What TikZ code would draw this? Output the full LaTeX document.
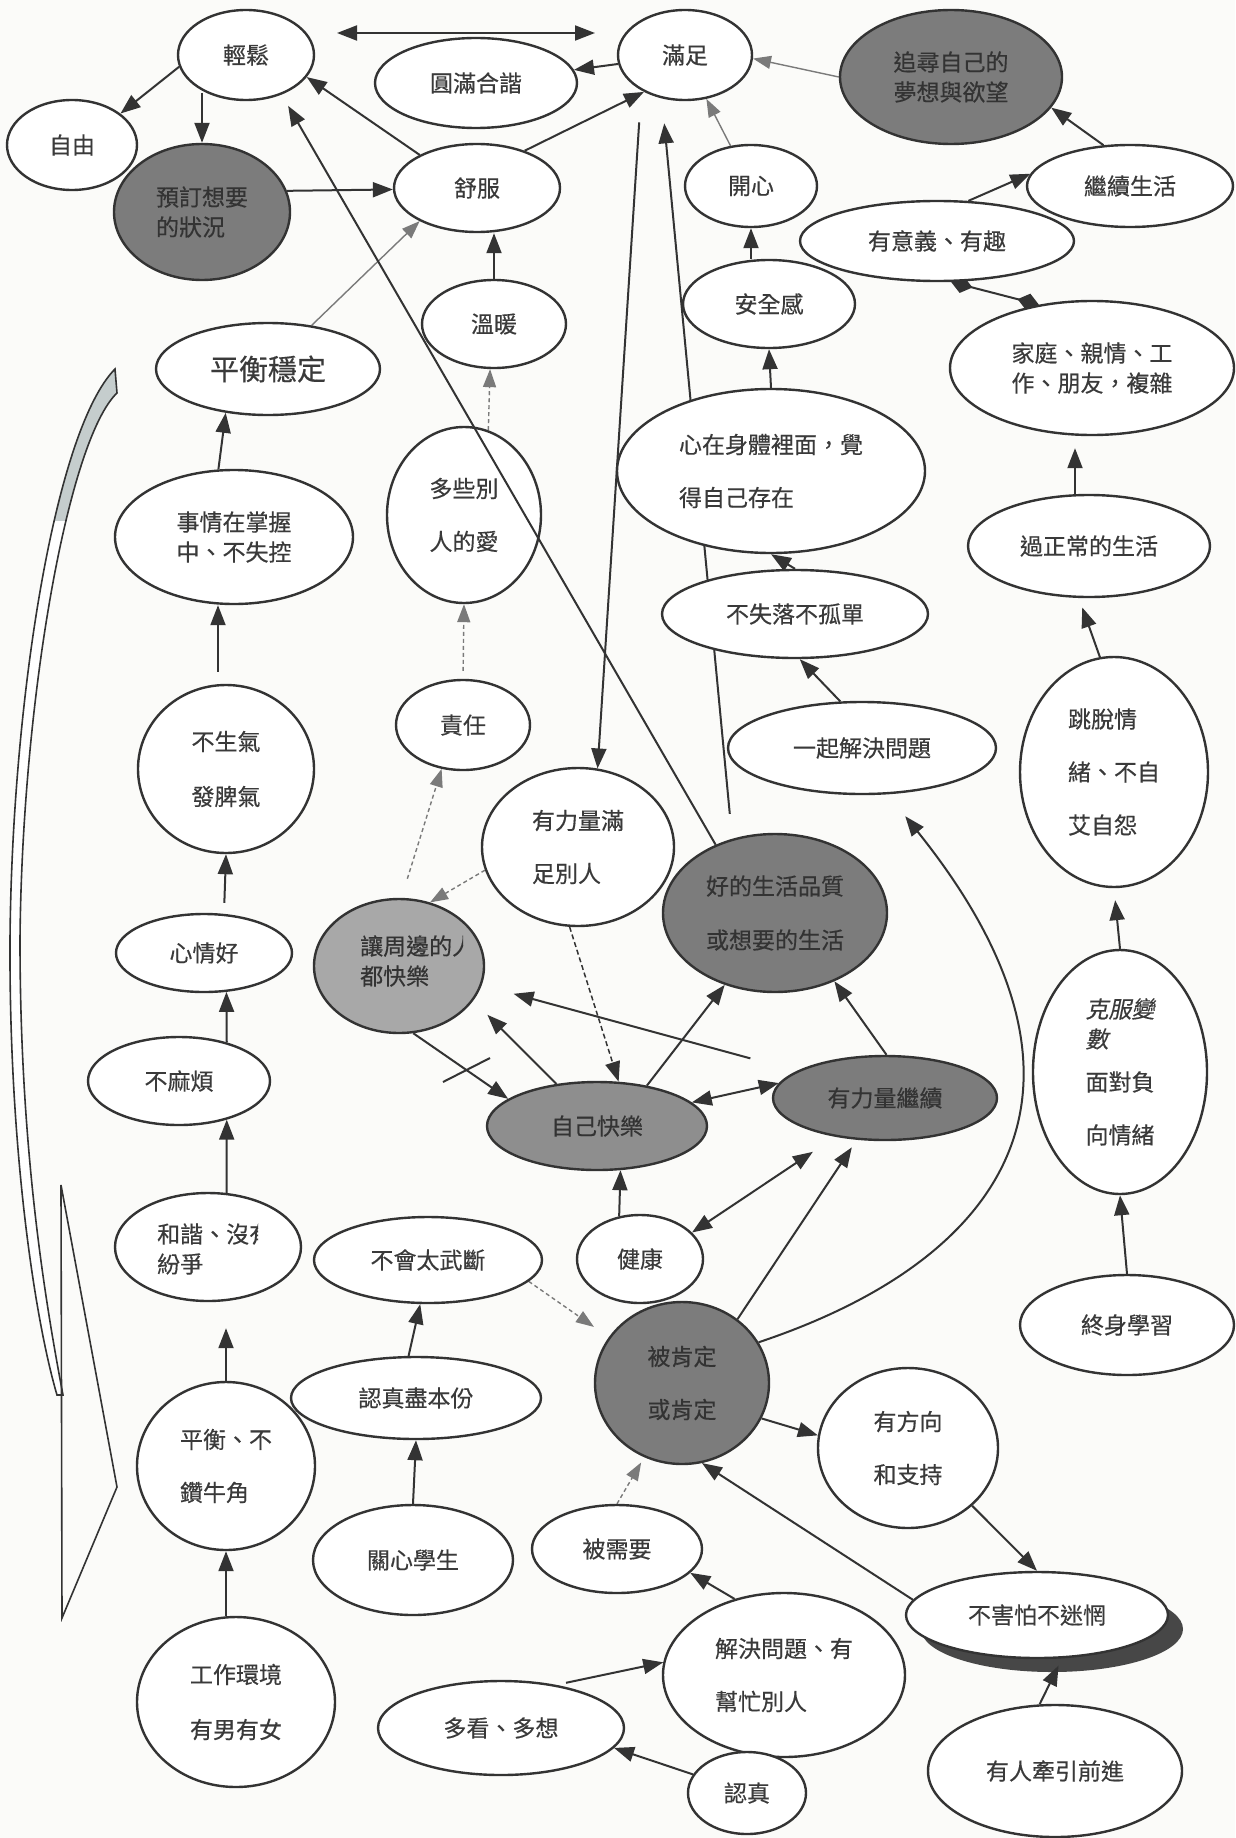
\documentclass[tikz,border=0pt]{standalone}
\usepackage{fontspec}
\newfontfamily\cjk[FakeBold=0.4]{Noto Sans CJK TC}
\newfontfamily\cjkit[FakeSlant=0.2,FakeBold=0.4]{Noto Sans CJK TC}
\usetikzlibrary{shapes.geometric,arrows.meta}
\pgfdeclarelayer{back}\pgfdeclarelayer{bg}\pgfdeclarelayer{fore}
\pgfsetlayers{back,bg,main,fore}
\definecolor{ink}{HTML}{333333}
\definecolor{txtc}{HTML}{3A3A3A}
\definecolor{darkfill}{HTML}{7C7C7C}
\definecolor{midfill}{HTML}{8E8E8E}
\definecolor{lightfill}{HTML}{A8A8A8}
\definecolor{grayln}{HTML}{7A7A7A}
\definecolor{bgc}{HTML}{FBFBF9}
\definecolor{bracec}{HTML}{C5CDCD}
\newcommand\bracepath{(115,369) .. controls (55,430) and (12,700) .. (10,940)
  .. controls (9,1150) and (35,1320) .. (57,1395)
  -- (63,1395) .. controls (45,1300) and (20,1150) .. (20,940)
  .. controls (22,700) and (68,440) .. (117,393) -- cycle}
\begin{document}
\begin{tikzpicture}[x=1pt,y=-1pt,
  >={Triangle[length=20pt,width=15pt]},
  sz/.style 2 args={minimum width=#1, minimum height=#2},
  el/.style={ellipse, draw=ink, line width=2.4pt, fill=white, inner sep=0pt,
    text=txtc, font=\cjk\fontsize{23}{30}\selectfont, align=left},
  darkel/.style={el, fill=darkfill, text=black!80},
  txt/.style={inner sep=0pt, text=txtc, font=\cjk\fontsize{23}{30}\selectfont, align=left},
  arr/.style={draw=ink, line width=2pt, ->},
  darr/.style={draw=ink, line width=2pt, <->},
  ddash/.style={arr, line width=1.5pt, dash pattern=on 5pt off 3pt},
  garr/.style={draw=grayln, line width=1.4pt, -{Triangle[length=18pt,width=13pt]}},
  gdash/.style={garr, dash pattern=on 4pt off 3pt},
  dia/.style={draw=ink, line width=2pt, {Diamond[length=22pt,width=17pt]}-{Diamond[length=22pt,width=17pt]}}
]
\useasboundingbox (0,0) rectangle (1235,1838);

% ---------- nodes ----------
\node[el, sz={136}{90}] (qingsong) at (246,55) {輕鬆};
\node[el, sz={130}{90}] (ziyou) at (72,145) {自由};
\node[darkel, sz={176}{136}] (yuding) at (202,212) {預訂想要\\的狀況};
\node[el, sz={224}{92}, font=\cjk\fontsize{29}{34}\selectfont] (pingheng) at (268,369) {平衡穩定};
\node[el, sz={202}{90}] (yuanman) at (476,83) {圓滿合諧};
\node[el, sz={166}{88}] (shufu) at (477,188) {舒服};
\node[el, sz={144}{88}] (wennuan) at (494,324) {溫暖};
\node[el, sz={134}{90}] (manzu) at (685,55) {滿足};
\node[el, sz={132}{82}] (kaixin) at (751,186) {開心};
\node[el, sz={172}{88}] (anquan) at (769,304) {安全感};
\node[el, sz={308}{164}] (xinzai) at (771,471) {心在身體裡面，覺\\[23pt]得自己存在};
\node[darkel, sz={222}{134}] (zhuixun) at (951,77) {追尋自己的\\夢想與欲望};
\node[el, sz={206}{82}] (jixu) at (1130,186) {繼續生活};
\node[el, sz={274}{80}] (youyiyi) at (937,241) {有意義、有趣};
\node[el, sz={284}{134}] (jiating) at (1092,368) {家庭、親情、工\\作、朋友，複雜};
\node[el, sz={242}{102}] (zhengchang) at (1089,546) {過正常的生活};
\node[el, sz={188}{230}] (tiaotuo) at (1114,772) {跳脫情\\[23pt]緒、不自\\[23pt]艾自怨};
\node[el, sz={238}{134}] (shiqing) at (234,537) {事情在掌握\\中、不失控};
\node[el, sz={176}{168}] (bushengqi) at (226,769) {不生氣\\[25pt]發脾氣};
\node[el, sz={176}{78}] (xinqinghao) at (204,953) {心情好};
\node[el, sz={182}{88}] (bumafan) at (179,1081) {不麻煩};
\node[el, sz={186}{108}] (hexie) at (208,1247) {};
\node[el, sz={178}{168}] (pingheng2) at (226,1466) {平衡、不\\[23pt]鑽牛角};
\node[el, sz={198}{170}] (gongzuo) at (236,1702) {工作環境\\[25pt]有男有女};
\node[el, sz={154}{176}] (duoxie) at (464,515) {多些別\\[23pt]人的愛};
\node[el, sz={134}{90}] (zeren) at (463,725) {責任};
\node[el, sz={192}{158}] (youliliang) at (578,847) {有力量滿\\[23pt]足別人};
\node[darkel, sz={224}{158}] (haode) at (775,913) {好的生活品質\\[24pt]或想要的生活};
\node[el, sz={266}{88}] (bushiluo) at (795,614) {不失落不孤單};
\node[el, sz={268}{92}] (yiqi) at (862,748) {一起解決問題};
\node[el, fill=lightfill, sz={170}{134}] (rangzhou) at (399,966) {};
\node[el, fill=midfill, text=black!80, sz={220}{88}] (ziji) at (597,1126) {自己快樂};
\node[darkel, sz={224}{84}] (youlijixu) at (885,1098) {有力量繼續};
\node[el, sz={174}{244}] (kefu) at (1120,1072) {\cjkit 克服變\\\cjkit 數\\[13pt]\cjk 面對負\\[23pt]\cjk 向情緒};
\node[el, sz={214}{100}] (zhongshen) at (1127,1325) {終身學習};
\node[el, sz={228}{86}] (buhuitai) at (428,1260) {不會太武斷};
\node[el, sz={126}{88}] (jiankang) at (640,1259) {健康};
\node[darkel, sz={174}{162}] (beikending) at (682,1383) {被肯定\\[23pt]或肯定};
\node[el, sz={250}{82}] (renzhen2) at (416,1398) {認真盡本份};
\node[el, sz={200}{110}] (guanxin) at (413,1560) {關心學生};
\node[el, sz={170}{88}] (beixuyao) at (617,1549) {被需要};
\node[el, sz={180}{160}] (youfangxiang) at (908,1448) {有方向\\[23pt]和支持};
\node[el, sz={262}{86}] (buhaipa) at (1037,1615) {不害怕不迷惘};
\node[el, sz={242}{164}] (jiejue) at (784,1675) {解決問題、有\\[23pt]幫忙別人};
\node[el, sz={246}{94}] (duokan) at (501,1728) {多看、多想};
\node[el, sz={118}{82}] (renzhen) at (747,1793) {認真};
\node[el, sz={254}{132}] (youren) at (1055,1771) {有人牽引前進};

% clipped texts
\begin{scope}
\clip (150,1212) rectangle (258,1288);
\node[txt, anchor=west] (hexieT) at (157,1249) {和諧、沒有\\紛爭};
\end{scope}
\begin{scope}
\clip (352,922) rectangle (463,1002);
\node[txt, anchor=west, text=black!80] (rangzhouT) at (360,961) {讓周邊的人\\都快樂};
\end{scope}

\coordinate (dblL) at (337,33);
\coordinate (dblR) at (595,33);

% ---------- background, shadow, brace ----------
\begin{pgfonlayer}{back}
\fill[bgc] (0,0) rectangle (1235,1838);
\fill[black!72] ([shift={(15pt,-14pt)}]buhaipa.center) ellipse [x radius=131, y radius=43];
\fill[white] \bracepath;
\begin{scope}
\clip (0,360) rectangle (130,520);
\fill[bracec] \bracepath;
\end{scope}
\draw[ink, line width=1.6pt] \bracepath;
\draw[ink, line width=1.6pt, line join=miter] (61,1185) -- (117,1487) -- (62,1618) -- cycle;
\end{pgfonlayer}

% ---------- connectors ----------
\begin{pgfonlayer}{bg}
\draw[darr] (dblL) -- (dblR);
\draw[arr] (manzu) -- (yuanman);
\draw[arr] (shufu.38) -- (manzu.222);
\draw[arr] (shufu.150) -- (qingsong.340);
\draw[arr] (yuding.14) -- (shufu.181);
\draw[arr] (qingsong.190) -- (ziyou.33);
\draw[arr] (qingsong.224 -| yuding.north) -- (yuding.north);
\draw[garr] (pingheng.45) -- (shufu.210);
\draw[arr] (shiqing.103) -- (pingheng.226);
\draw[arr, shorten <=12pt] ([xshift=-8pt]bushengqi.north) -- ([xshift=-16pt]shiqing.south);
\draw[arr, shorten <=10pt] ([xshift=20pt]xinqinghao.north) -- (bushengqi.south);
\draw[arr] (bumafan.39) -- (xinqinghao.300);
\draw[arr] (hexie.71) -- (bumafan.321);
\draw[arr, shorten >=26pt] (pingheng2.north) -- (pingheng2.north |- hexie.south);
\draw[arr] ([xshift=-10pt]gongzuo.north) -- (pingheng2.south);
\draw[arr] (wennuan.north) -- (wennuan.north |- shufu.south);
\draw[arr] (anquan.north -| kaixin.south) -- (kaixin.south);
\draw[arr] (xinzai.north) -- (anquan.south);
\draw[arr, shorten <=25pt, shorten >=25pt] (haode.120) -- (manzu.242);
\draw[arr, shorten <=32pt] (manzu.219) -- (youliliang.76);
\draw[arr] (bushiluo.north) -- (xinzai.south);
\draw[arr] (yiqi.115) -- (bushiluo.276);
\draw[arr, shorten >=28pt] (beikending.28) .. controls (1005,1260) and (1125,1090) .. (yiqi.299);
\draw[arr] (youlijixu.88) -- (haode.311);
\draw[arr, shorten >=20pt] (ziji.134) -- (rangzhou.335);
\draw[arr] (rangzhou.282) -- (ziji.163);
\draw[ink, line width=2pt] (443,1082) -- (490,1058);
\draw[arr, shorten <=48pt, shorten >=33pt] (youlijixu.163) -- (rangzhou.347);
\draw[arr] (ziji.39) -- (haode.235);
\draw[darr] (ziji.14) -- (youlijixu.172);
\draw[arr] (jiankang.116) -- (ziji.298);
\draw[darr, shorten >=27pt] (jiankang.27) -- (youlijixu.218);
\draw[arr, shorten >=9pt] (beikending.49) -- (youlijixu.236);
\draw[arr] (beikending.336) -- (youfangxiang.172);
\draw[arr] (buhaipa.173) -- (beikending.284);
\draw[arr] (youfangxiang.318) -- (buhaipa.north);
\draw[arr, shorten >=8pt] (youren.103) -- (buhaipa.300);
\draw[gdash, shorten >=6pt] (beixuyao.north) -- (beikending.243);
\draw[arr] (jiejue.123) -- (beixuyao.342);
\draw[arr, shorten <=10pt] (duokan.38) -- (jiejue.174);
\draw[arr] (renzhen.161) -- (duokan.350);
\draw[arr] (guanxin.north) -- (renzhen2.south);
\draw[arr] (renzhen2.100) -- (buhuitai.260);
\draw[gdash, shorten >=18pt] (buhuitai.348) -- (beikending.148);
\draw[gdash, shorten <=20pt] (rangzhou.88) -- (zeren.244);
\draw[gdash, shorten <=8pt] (zeren.north) -- (duoxie.south);
\draw[gdash] (duoxie.74) -- (wennuan.265);
\draw[gdash] (youliliang.194) -- (rangzhou.64);
\draw[ddash] (youliliang.264) -- (ziji.64);
\draw[garr] (kaixin.117) -- (manzu.296);
\draw[garr] (zhuixun.west) -- (manzu.357);
\draw[arr] (jixu.123) -- (zhuixun.343);
\draw[arr] (youyiyi.52) -- (jixu.173);
\draw[dia] (youyiyi.289) -- (jiating.130);
\draw[arr, shorten >=12pt] ([xshift=-14pt]zhengchang.north) -- ([xshift=-17pt]jiating.south);
\draw[arr, shorten >=10pt] (tiaotuo.97) -- (zhengchang.259);
\draw[arr, shorten >=12pt] (kefu.north) -- (tiaotuo.south);
\draw[arr] (zhongshen.north) -- (kefu.south);
\end{pgfonlayer}

\begin{pgfonlayer}{fore}
\draw[arr, shorten >=13pt] (haode.131) -- (qingsong.312);
\end{pgfonlayer}
\end{tikzpicture}
\end{document}
